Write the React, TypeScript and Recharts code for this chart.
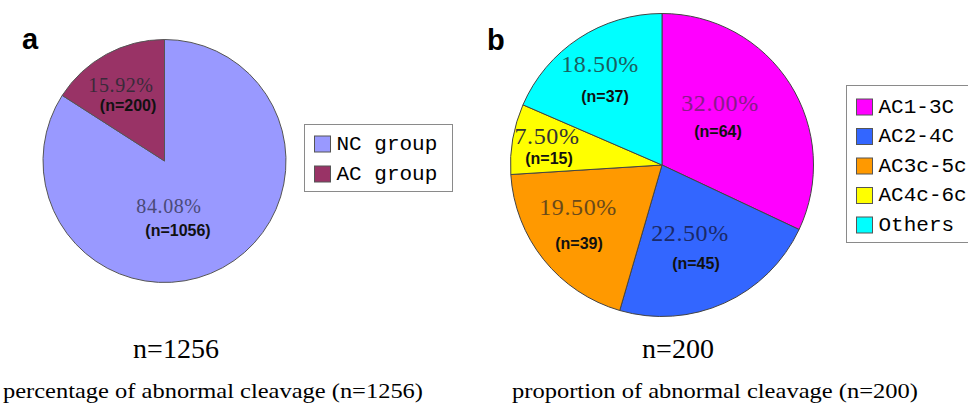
import React from "react";
import { PieChart, Pie, Cell } from "recharts";

// ---- data ----
const groupNames = ["NC group", "AC group"];
const groupCounts = [1056, 200];
const typeNames = ["AC1-3C", "AC2-4C", "AC3c-5c", "AC4c-6c", "Others"];
const typeCounts = [64, 45, 39, 15, 37];
const subtitles = ["n=1256", "n=200"];
const captions = [
  "percentage of abnormal cleavage (n=1256)",
  "proportion of abnormal cleavage (n=200)",
];
const panelLetters = ["a", "b"];

// ---- styles ----
const groupColors = ["#9999ff", "#993366"];
const groupTextColors = ["#4a4a78", "#3a2a3a"];
const typeColors = ["#ff00ff", "#3366ff", "#ff9900", "#ffff00", "#00ffff"];
const typeTextColors = ["#8a1a8a", "#1a2a6a", "#6a4a1a", "#333333", "#1a6060"];

// label offsets as fractions of the radius: [pctDx, pctDy, nDx, nDy]
const groupLabelPos = [
  [0.037, 0.37, 0.111, 0.576],
  [-0.358, -0.626, -0.3, -0.453],
];
const typeLabelPos = [
  [0.383, -0.409, 0.37, -0.218],
  [0.185, 0.449, 0.224, 0.647],
  [-0.554, 0.277, -0.548, 0.515],
  [-0.759, -0.191, -0.746, -0.046],
  [-0.409, -0.667, -0.376, -0.449],
];

const groupData = groupNames.map((name, i) => ({ name, value: groupCounts[i] }));
const typeData = typeNames.map((name, i) => ({ name, value: typeCounts[i] }));

const makeLabel =
  (pos: number[][], colors: string[], pctSize: number) => (props: any) => {
    const { cx, cy, outerRadius, index, percent, value } = props;
    const p = pos[index];
    return (
      <g>
        <text
          x={cx + p[0] * outerRadius}
          y={cy + p[1] * outerRadius}
          textAnchor="middle"
          dominantBaseline="central"
          fontFamily="'Liberation Serif', serif"
          fontSize={pctSize}
          letterSpacing={0.6}
          fill={colors[index]}
        >
          {(percent * 100).toFixed(2) + "%"}
        </text>
        <text
          x={cx + p[2] * outerRadius}
          y={cy + p[3] * outerRadius}
          textAnchor="middle"
          dominantBaseline="central"
          fontFamily="'Liberation Sans', Arial, sans-serif"
          fontWeight="bold"
          fontSize={16}
          fill="#111"
        >
          {"(n=" + value + ")"}
        </text>
      </g>
    );
  };

const Legend = ({
  x,
  y,
  w,
  h,
  names,
  colors,
  rowStart,
  rowGap,
}: {
  x: number;
  y: number;
  w: number;
  h: number;
  names: string[];
  colors: string[];
  rowStart: number;
  rowGap: number;
}) => (
  <g>
    <rect x={x} y={y} width={w} height={h} fill="#fff" stroke="#8a8a8a" strokeWidth={1} />
    {names.map((n, i) => (
      <g key={n}>
        <rect
          x={x + 10}
          y={rowStart + i * rowGap - 8}
          width={16}
          height={16}
          fill={colors[i]}
          stroke="#555"
          strokeWidth={1}
        />
        <text
          x={x + 32}
          y={rowStart + i * rowGap}
          dominantBaseline="central"
          fontFamily="'Liberation Mono', monospace"
          fontSize={21}
          fill="#000"
        >
          {n}
        </text>
      </g>
    ))}
  </g>
);

export default function App() {
  return (
    <div
      style={{
        position: "absolute",
        left: 0,
        top: 0,
        width: 968,
        height: 408,
        background: "#fff",
        overflow: "hidden",
      }}
    >
      <PieChart width={968} height={408} margin={{ top: 0, right: 0, bottom: 0, left: 0 }}>
        <Pie
          data={groupData}
          dataKey="value"
          nameKey="name"
          cx={164.5}
          cy={161}
          outerRadius={121.5}
          startAngle={90}
          endAngle={-270}
          isAnimationActive={false}
          labelLine={false}
          label={makeLabel(groupLabelPos, groupTextColors, 20)}
        >
          {groupData.map((d, i) => (
            <Cell key={d.name} fill={groupColors[i]} stroke="#555" strokeWidth={1} />
          ))}
        </Pie>
        <Pie
          data={typeData}
          dataKey="value"
          nameKey="name"
          cx={662}
          cy={165}
          outerRadius={151.5}
          startAngle={90}
          endAngle={-270}
          isAnimationActive={false}
          labelLine={false}
          label={makeLabel(typeLabelPos, typeTextColors, 24)}
        >
          {typeData.map((d, i) => (
            <Cell key={d.name} fill={typeColors[i]} stroke="#444" strokeWidth={1} />
          ))}
        </Pie>
      </PieChart>
      <svg
        width={968}
        height={408}
        style={{ position: "absolute", left: 0, top: 0, pointerEvents: "none" }}
      >
        <text x={22} y={49} fontFamily="'Liberation Sans', Arial, sans-serif" fontWeight="bold" fontSize={29} fill="#000">
          {panelLetters[0]}
        </text>
        <text x={487} y={50} fontFamily="'Liberation Sans', Arial, sans-serif" fontWeight="bold" fontSize={29} fill="#000">
          {panelLetters[1]}
        </text>
        <Legend x={304.5} y={124.5} w={148} h={67} names={groupNames} colors={groupColors} rowStart={144} rowGap={30} />
        <Legend x={846.5} y={85.5} w={130} h={157} names={typeNames} colors={typeColors} rowStart={107} rowGap={29.5} />
        <text x={176} y={358} textAnchor="middle" fontFamily="'Liberation Serif', serif" fontSize={28} fill="#000">
          {subtitles[0]}
        </text>
        <text x={678} y={358} textAnchor="middle" fontFamily="'Liberation Serif', serif" fontSize={28} fill="#000">
          {subtitles[1]}
        </text>
        <text x={3} y={398} fontFamily="'Liberation Serif', serif" fontSize={22} fill="#000" textLength={420} lengthAdjust="spacingAndGlyphs">
          {captions[0]}
        </text>
        <text x={512} y={398} fontFamily="'Liberation Serif', serif" fontSize={22} fill="#000" textLength={406} lengthAdjust="spacingAndGlyphs">
          {captions[1]}
        </text>
      </svg>
    </div>
  );
}
